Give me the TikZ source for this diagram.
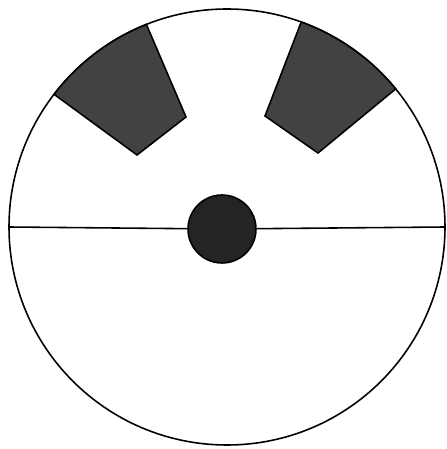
\documentclass[tikz,border=0pt]{standalone}
\usepackage{tikz}
\begin{document}
\begin{tikzpicture}[
  x=0.02cm, y=0.02cm,
  rim/.style={line width=0.9pt},
  blade/.style={draw, line width=0.9pt, fill=black!74},
  hub/.style={circle, draw, line width=0.9pt, fill=black!86, minimum size=1.36cm, inner sep=0pt},
]
\useasboundingbox (-227,-222) rectangle (219,227);
% wheel and axle
\draw[rim] (0,0) circle[radius=218];
\node[hub] (hub) at (-5,-2) {};
\coordinate (rimW) at (180:218);
\coordinate (rimE) at (0:218);
\draw[rim] (rimW) -- (hub);
\draw[rim] (hub) -- (rimE);
% the two dark sectors at the top
\draw[blade] (142.5:218) arc[start angle=142.5, end angle=111.7, radius=218]
  -- (-41,110) -- (-90,72) -- cycle;
\draw[blade] (70.1:218) arc[start angle=70.1, end angle=39.3, radius=218]
  -- (91,74) -- (38,111) -- cycle;
\end{tikzpicture}
\end{document}
